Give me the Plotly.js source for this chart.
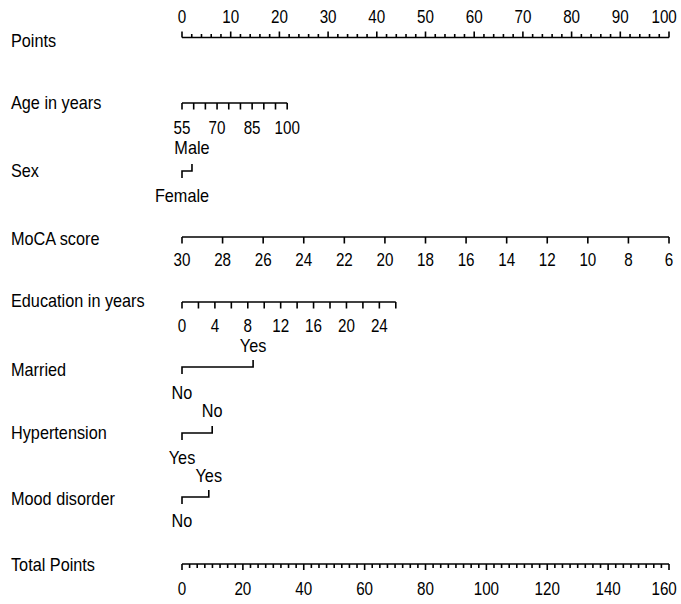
<!DOCTYPE html>
<html><head><meta charset="utf-8">
<script src="https://cdn.plot.ly/plotly-3.0.1.min.js"></script>
<style>html,body{margin:0;padding:0;background:#fff}#chart{width:681px;height:604px}</style>
</head><body><div id="chart"></div>
<script>
// ---------- data ----------
const rowLabels = ['Points','Age in years','Sex','MoCA score','Education in years','Married','Hypertension','Mood disorder','Total Points'];

const pointsMajor = [0,10,20,30,40,50,60,70,80,90,100];
const pointsMinor = [2,4,6,8,12,14,16,18,22,24,26,28,32,34,36,38,42,44,46,48,52,54,56,58,62,64,66,68,72,74,76,78,82,84,86,88,92,94,96,98];

const ageTicks = [55,60,65,70,75,80,85,90,95,100];
const ageLabels = [55,70,85,100];
const ageRange = [55,100];
const ageMaxPoints = 21.6;

const sexLevels = ['Female','Male'];
const sexPoints = [0,2.05];

const mocaTicks = [30,28,26,24,22,20,18,16,14,12,10,8,6];
const mocaRange = [30,6];
const mocaMaxPoints = 100;

const eduTicks = [0,2,4,6,8,10,12,14,16,18,20,22,24,26];
const eduLabels = [0,4,8,12,16,20,24];
const eduRange = [0,26];
const eduMaxPoints = 43.9;

const marriedLevels = ['No','Yes'];
const marriedPoints = [0,14.6];

const htnLevels = ['Yes','No'];
const htnPoints = [0,6.2];

const moodLevels = ['No','Yes'];
const moodPoints = [0,5.5];

const totalMajor = [0,20,40,60,80,100,120,140,160];
const totalMinor = [2.5,5,7.5,10,12.5,15,17.5,22.5,25,27.5,30,32.5,35,37.5,42.5,45,47.5,50,52.5,55,57.5,62.5,65,67.5,70,72.5,75,77.5,82.5,85,87.5,90,92.5,95,97.5,102.5,105,107.5,110,112.5,115,117.5,122.5,125,127.5,130,132.5,135,137.5,142.5,145,147.5,150,152.5,155,157.5];
const totalRange = [0,160];

// ---------- style constants ----------
const FONT = '"Liberation Sans", Arial, Helvetica, sans-serif';
const FS = 19;
const CONDENSE_WORDS = 0.855;   // horizontal squeeze to mimic a narrow face
const CONDENSE_DIGITS = 0.8;
const LW = 1.6;
const PX_PER_PT = 4.87, X0 = 182, W = 681;
const labelX = (11 - X0) / PX_PER_PT;

const rowY = {
  points:{line:37.5, text:18, label:42},
  age:{line:103, text:129, label:104},
  sex:{line:171, label:172, above:149, below:197},
  moca:{line:237, text:261, label:240},
  edu:{line:302, text:327, label:302},
  married:{line:367, label:371, above:347, below:394},
  htn:{line:433, label:434, above:412, below:459},
  mood:{line:497, label:500, above:477, below:522},
  total:{line:564, text:590, label:566}
};

const lin = (r, maxPts) => v => (v - r[0]) / (r[1] - r[0]) * maxPts;
const ageP = lin(ageRange, ageMaxPoints);
const mocaP = lin(mocaRange, mocaMaxPoints);
const eduP = lin(eduRange, eduMaxPoints);
const totalP = lin(totalRange, 100);

const traces = [];
function lineTrace(xs, ys){
  traces.push({x:xs, y:ys, mode:'lines', type:'scatter', hoverinfo:'skip',
    line:{color:'#000', width:LW}, showlegend:false, connectgaps:false});
}
function textTrace(xs, ys, texts, pos){
  traces.push({x:xs, y:ys, text:texts, mode:'text', type:'scatter', hoverinfo:'skip',
    textposition:pos || 'middle center', textfont:{family:FONT, size:FS, color:'#000'}, showlegend:false});
}
function axis(ticksMajor, ticksMinor, map, y0, dir, lenMaj, lenMin){
  const all = ticksMajor.concat(ticksMinor || []);
  const pts = all.map(map);
  const lo = Math.min(...pts), hi = Math.max(...pts);
  const xs = [lo, hi, null], ys = [y0, y0, null];
  ticksMajor.forEach(v => { xs.push(map(v), map(v), null); ys.push(y0, y0 + dir*lenMaj, null); });
  (ticksMinor||[]).forEach(v => { xs.push(map(v), map(v), null); ys.push(y0, y0 + dir*lenMin, null); });
  lineTrace(xs, ys);
}
function catRow(levels, points, r){
  const xs = [points[0], points[0], points[1], points[1]];
  const ys = [r.line + 7, r.line, r.line, r.line - 7];
  lineTrace(xs, ys);
  textTrace([points[0]], [r.below], [levels[0]]);
  textTrace([points[1]], [r.above], [levels[1]]);
}

axis(pointsMajor, pointsMinor, v => v, rowY.points.line, -1, 6, 3.5);
textTrace(pointsMajor, pointsMajor.map(() => rowY.points.text), pointsMajor.map(String));
axis(ageTicks, [], ageP, rowY.age.line, 1, 6.5, 0);
textTrace(ageLabels.map(ageP), ageLabels.map(() => rowY.age.text), ageLabels.map(String));
catRow(sexLevels, sexPoints, rowY.sex);
axis(mocaTicks, [], mocaP, rowY.moca.line, 1, 6.5, 0);
textTrace(mocaTicks.map(mocaP), mocaTicks.map(() => rowY.moca.text), mocaTicks.map(String));
axis(eduTicks, [], eduP, rowY.edu.line, 1, 6.5, 0);
textTrace(eduLabels.map(eduP), eduLabels.map(() => rowY.edu.text), eduLabels.map(String));
catRow(marriedLevels, marriedPoints, rowY.married);
catRow(htnLevels, htnPoints, rowY.htn);
catRow(moodLevels, moodPoints, rowY.mood);
axis(totalMajor, totalMinor, totalP, rowY.total.line, 1, 6, 4);
textTrace(totalMajor.map(totalP), totalMajor.map(() => rowY.total.text), totalMajor.map(String));

// row labels, left aligned
const keys = ['points','age','sex','moca','edu','married','htn','mood','total'];
textTrace(rowLabels.map(() => labelX), keys.map(k => rowY[k].label), rowLabels, 'middle right');

const layout = {
  width:W, height:604, margin:{l:0,r:0,t:0,b:0},
  paper_bgcolor:'#fff', plot_bgcolor:'#fff',
  xaxis:{range:[-X0/PX_PER_PT, (W-X0)/PX_PER_PT], visible:false, fixedrange:true},
  yaxis:{range:[604,0], visible:false, fixedrange:true},
  showlegend:false
};
Plotly.newPlot('chart', traces, layout, {staticPlot:true, displayModeBar:false}).then(gd => {
  const svg = gd.querySelector('svg.main-svg');
  const svgLeft = svg.getBoundingClientRect().left;
  gd.querySelectorAll('.textpoint text').forEach(t => {
    // keep texts (at natural width) inside the right edge
    const r = t.getBoundingClientRect();
    const over = r.right - svgLeft - (W - 1);
    if (over > 0) t.setAttribute('x', (parseFloat(t.getAttribute('x')) - over).toFixed(2));
    const w = t.getComputedTextLength();
    if (w > 0) {
      const f = /^[0-9]+$/.test(t.textContent) ? CONDENSE_DIGITS : CONDENSE_WORDS;
      t.setAttribute('textLength', (w * f).toFixed(2));
      t.setAttribute('lengthAdjust', 'spacingAndGlyphs');
    }
  });
});
</script></body></html>
